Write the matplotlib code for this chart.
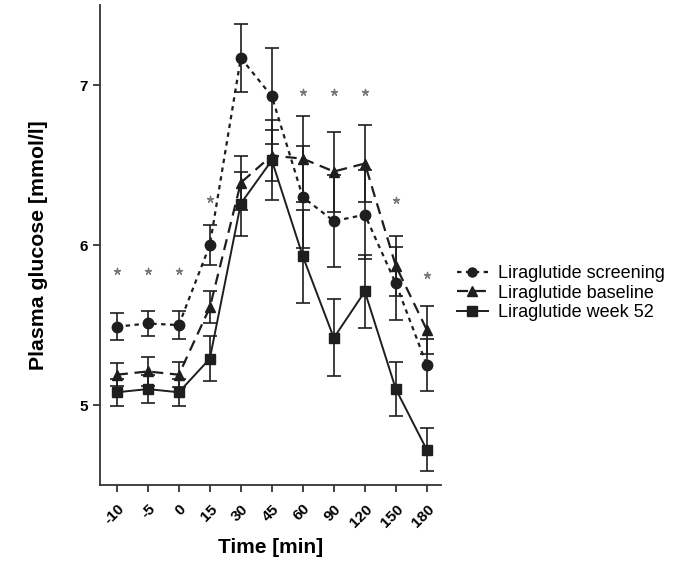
import numpy as np
import matplotlib
matplotlib.use("Agg")
import matplotlib.pyplot as plt
from matplotlib.lines import Line2D

# time points (categorical axis)
times = ['-10', '-5', '0', '15', '30', '45', '60', '90', '120', '150', '180']

# plasma glucose, mean and SEM [mmol/l]
screening = [5.49, 5.51, 5.50, 6.00, 7.17, 6.93, 6.30, 6.15, 6.19, 5.76, 5.25]
screening_err = [0.085, 0.08, 0.085, 0.125, 0.21, 0.30, 0.32, 0.29, 0.28, 0.23, 0.16]

baseline = [5.19, 5.21, 5.19, 5.61, 6.39, 6.56, 6.54, 6.46, 6.51, 5.87, 5.47]
baseline_err = [0.07, 0.09, 0.08, 0.10, 0.17, 0.16, 0.27, 0.25, 0.24, 0.19, 0.15]

week52 = [5.08, 5.10, 5.08, 5.29, 6.26, 6.53, 5.93, 5.42, 5.71, 5.10, 4.72]
week52_err = [0.085, 0.09, 0.085, 0.14, 0.20, 0.25, 0.29, 0.24, 0.23, 0.17, 0.135]

labels = ['Liraglutide screening', 'Liraglutide baseline', 'Liraglutide week 52']

# significance markers (position of the asterisk)
star_idx = [0, 1, 2, 3, 6, 7, 8, 9, 10]
star_y = [5.84, 5.84, 5.84, 6.29, 6.96, 6.96, 6.96, 6.28, 5.81]

plt.rcParams['font.family'] = ['Liberation Sans', 'DejaVu Sans']

fig = plt.figure(figsize=(6.74, 5.70), dpi=100)
ax = fig.add_axes([0.148, 0.149, 0.506, 0.842])

x = np.arange(len(times))
col = '#1e1e1e'
styles = [('o', (0, (2, 2)), 1.6), ('^', (0, (5, 3)), 1.6), ('s', '-', 1.4)]
series = [(screening, screening_err), (baseline, baseline_err), (week52, week52_err)]

handles = []
for (m, ls, lw), (y, e), lab in zip(styles, series, labels):
    ax.errorbar(x, y, yerr=e, color=col, marker=m, markersize=7.5,
                linestyle=ls, linewidth=lw, capsize=5, elinewidth=1.2,
                capthick=1.2)
    handles.append(Line2D([], [], color=col, marker=m, markersize=6.5,
                          linestyle=ls, linewidth=lw, label=lab))

ax.scatter(x[star_idx], star_y, marker=(5, 2, 0), s=20, color='#777777', linewidths=1.0)

ax.set_xlim(-0.55, 10.45)
ax.set_ylim(4.5, 7.5)
ax.set_yticks([5, 6, 7])
ax.set_yticklabels(['5', '6', '7'], fontsize=11, fontweight='bold')
ax.set_xticks(x)
ax.set_xticklabels(times, rotation=45, ha='right', rotation_mode='anchor',
                   fontsize=11, fontweight='bold')

for s in ['top', 'right']:
    ax.spines[s].set_visible(False)
for s in ['left', 'bottom']:
    ax.spines[s].set_linewidth(1.3)
    ax.spines[s].set_color('#333333')
ax.tick_params(direction='out', length=5, width=1.3, color='#333333')
ax.tick_params(axis='x', pad=7)

ax.set_xlabel('Time [min]', fontsize=15, fontweight='bold', labelpad=6)
ax.set_ylabel('Plasma glucose [mmol/l]', fontsize=15.3, fontweight='bold', labelpad=23)

ax.legend(handles=handles, loc='center left', bbox_to_anchor=(1.0, 0.40), frameon=False,
          fontsize=13, handlelength=1.7, handletextpad=0.55, labelspacing=0.15)

plt.savefig('out.png', dpi=100)
